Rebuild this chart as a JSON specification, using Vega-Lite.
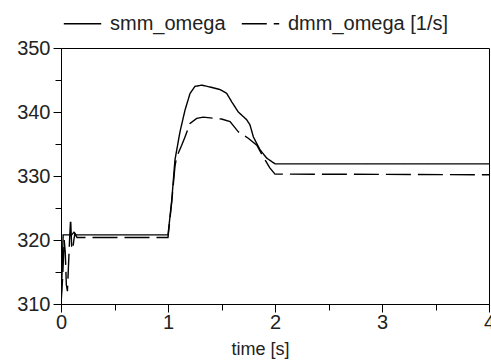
{
  "$schema": "https://vega.github.io/schema/vega-lite/v6.json",
  "width": 428,
  "height": 256,
  "autosize": {"type": "none"},
  "padding": {"left": 61, "top": 48, "right": 2, "bottom": 56},
  "background": "white",
  "config": {
    "font": "Liberation Sans",
    "view": {"stroke": "black", "strokeWidth": 1},
    "axis": {"domainColor": "black", "tickColor": "black", "labelColor": "#222", "titleColor": "#222", "grid": false, "labelFont": "Liberation Sans", "titleFont": "Liberation Sans"}
  },
  "data": {"values": [
    {"t": 0, "v": 310, "s": "smm_omega"},
    {"t": 0.01, "v": 315, "s": "smm_omega"},
    {"t": 0.02, "v": 320.8, "s": "smm_omega"},
    {"t": 0.1, "v": 320.8, "s": "smm_omega"},
    {"t": 0.12, "v": 321.2, "s": "smm_omega"},
    {"t": 0.14, "v": 320.8, "s": "smm_omega"},
    {"t": 1.0, "v": 320.8, "s": "smm_omega"},
    {"t": 1.035, "v": 326.2, "s": "smm_omega"},
    {"t": 1.065, "v": 332.5, "s": "smm_omega"},
    {"t": 1.112, "v": 336.9, "s": "smm_omega"},
    {"t": 1.159, "v": 340.3, "s": "smm_omega"},
    {"t": 1.206, "v": 342.9, "s": "smm_omega"},
    {"t": 1.252, "v": 344.0, "s": "smm_omega"},
    {"t": 1.315, "v": 344.2, "s": "smm_omega"},
    {"t": 1.393, "v": 343.9, "s": "smm_omega"},
    {"t": 1.486, "v": 343.5, "s": "smm_omega"},
    {"t": 1.549, "v": 342.9, "s": "smm_omega"},
    {"t": 1.595, "v": 341.6, "s": "smm_omega"},
    {"t": 1.657, "v": 340.0, "s": "smm_omega"},
    {"t": 1.735, "v": 338.8, "s": "smm_omega"},
    {"t": 1.766, "v": 338.0, "s": "smm_omega"},
    {"t": 1.798, "v": 336.1, "s": "smm_omega"},
    {"t": 1.86, "v": 334.1, "s": "smm_omega"},
    {"t": 1.922, "v": 332.8, "s": "smm_omega"},
    {"t": 2.0, "v": 331.9, "s": "smm_omega"},
    {"t": 4.0, "v": 331.9, "s": "smm_omega"},
    {"t": 0, "v": 310, "s": "dmm_omega [1/s]"},
    {"t": 0.015, "v": 314, "s": "dmm_omega [1/s]"},
    {"t": 0.03, "v": 320, "s": "dmm_omega [1/s]"},
    {"t": 0.04, "v": 318, "s": "dmm_omega [1/s]"},
    {"t": 0.05, "v": 313, "s": "dmm_omega [1/s]"},
    {"t": 0.06, "v": 312, "s": "dmm_omega [1/s]"},
    {"t": 0.07, "v": 316, "s": "dmm_omega [1/s]"},
    {"t": 0.08, "v": 320, "s": "dmm_omega [1/s]"},
    {"t": 0.09, "v": 323.4, "s": "dmm_omega [1/s]"},
    {"t": 0.095, "v": 321, "s": "dmm_omega [1/s]"},
    {"t": 0.1, "v": 319, "s": "dmm_omega [1/s]"},
    {"t": 0.11, "v": 318.5, "s": "dmm_omega [1/s]"},
    {"t": 0.12, "v": 320, "s": "dmm_omega [1/s]"},
    {"t": 0.13, "v": 321, "s": "dmm_omega [1/s]"},
    {"t": 0.15, "v": 320.4, "s": "dmm_omega [1/s]"},
    {"t": 1.0, "v": 320.4, "s": "dmm_omega [1/s]"},
    {"t": 1.035, "v": 326, "s": "dmm_omega [1/s]"},
    {"t": 1.065, "v": 331.5, "s": "dmm_omega [1/s]"},
    {"t": 1.081, "v": 333.0, "s": "dmm_omega [1/s]"},
    {"t": 1.128, "v": 334.8, "s": "dmm_omega [1/s]"},
    {"t": 1.159, "v": 336.1, "s": "dmm_omega [1/s]"},
    {"t": 1.206, "v": 338.2, "s": "dmm_omega [1/s]"},
    {"t": 1.268, "v": 339.0, "s": "dmm_omega [1/s]"},
    {"t": 1.33, "v": 339.2, "s": "dmm_omega [1/s]"},
    {"t": 1.5, "v": 338.9, "s": "dmm_omega [1/s]"},
    {"t": 1.58, "v": 338.5, "s": "dmm_omega [1/s]"},
    {"t": 1.657, "v": 336.9, "s": "dmm_omega [1/s]"},
    {"t": 1.75, "v": 335.9, "s": "dmm_omega [1/s]"},
    {"t": 1.83, "v": 334.8, "s": "dmm_omega [1/s]"},
    {"t": 1.89, "v": 333.0, "s": "dmm_omega [1/s]"},
    {"t": 1.95, "v": 331.3, "s": "dmm_omega [1/s]"},
    {"t": 2.0, "v": 330.3, "s": "dmm_omega [1/s]"},
    {"t": 4.0, "v": 330.2, "s": "dmm_omega [1/s]"}
  ]},
  "mark": {"type": "line", "clip": true, "color": "black", "strokeWidth": 1.4, "interpolate": "linear"},
  "encoding": {
    "x": {
      "field": "t", "type": "quantitative",
      "scale": {"domain": [0, 4], "nice": false, "zero": false},
      "axis": {
        "title": "time [s]", "titleFontSize": 18, "titleFontWeight": "normal", "titlePadding": 8,
        "titleX": 199, "titleAlign": "center",
        "values": [0, 0.5, 1, 1.5, 2, 2.5, 3, 3.5, 4],
        "labelExpr": "datum.value % 1 == 0 ? format(datum.value, 'd') : ''",
        "labelFontSize": 20, "labelPadding": 0, "labelFlush": false,
        "tickSize": {"condition": {"test": "datum.value % 1 == 0", "value": 8}, "value": 6},
        "tickWidth": 1
      }
    },
    "y": {
      "field": "v", "type": "quantitative",
      "scale": {"domain": [310, 350], "nice": false, "zero": false},
      "axis": {
        "title": null,
        "values": [310, 315, 320, 325, 330, 335, 340, 345, 350],
        "labelExpr": "datum.value % 10 == 0 ? datum.label : ''",
        "labelFontSize": 20, "labelPadding": 3,
        "tickSize": {"condition": {"test": "datum.value % 10 == 0", "value": 8}, "value": 6},
        "tickWidth": 1
      }
    },
    "detail": {"field": "s"},
    "strokeDash": {
      "field": "s", "type": "nominal",
      "scale": {"domain": ["smm_omega", "dmm_omega [1/s]"], "range": [[1, 0], [25, 7]]},
      "legend": {
        "title": null, "orient": "none", "direction": "horizontal",
        "legendX": 2, "legendY": -44,
        "symbolType": "stroke", "symbolSize": 1400, "symbolStrokeColor": "black", "symbolStrokeWidth": 1.4,
        "labelFontSize": 20, "labelColor": "#222", "labelOffset": 8, "columnPadding": 12, "labelLimit": 400
      }
    }
  }
}
